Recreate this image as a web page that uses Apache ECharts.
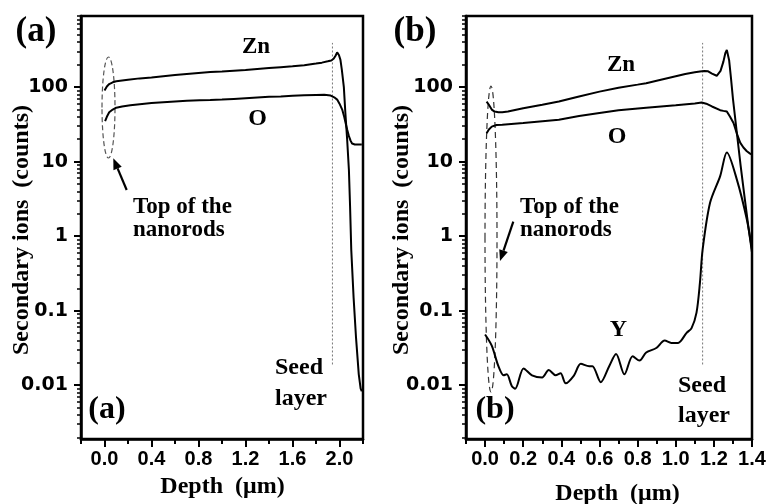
<!DOCTYPE html>
<html><head><meta charset="utf-8">
<script src="https://cdn.jsdelivr.net/npm/echarts@6/dist/echarts.min.js"></script>
<style>html,body{margin:0;padding:0;background:#fff}#c{width:769px;height:504px}</style>
</head><body><div id="c"></div>
<script>
// ---------- DATA ----------
// Panel (a)
const depthZnA = [0.0, 0.01, 0.02, 0.04, 0.07, 0.1, 0.15, 0.2, 0.3, 0.4, 0.5, 0.6, 0.7, 0.8, 0.9, 1.0, 1.1, 1.2, 1.3, 1.4, 1.5, 1.6, 1.7, 1.8, 1.85, 1.9, 1.93, 1.95, 1.965, 1.98, 1.995, 2.008, 2.02, 2.037, 2.05, 2.065, 2.08, 2.09, 2.10, 2.12, 2.14, 2.164, 2.18, 2.19];
const countsZnA = [90, 95, 102, 110, 116, 120, 123, 126, 131, 135, 140, 145, 150, 155, 159, 162, 166, 170, 175, 180, 185, 190, 197, 207, 213, 222, 228, 240, 262, 292, 270, 232, 170, 100, 45, 20, 7.8, 2.5, 0.66, 0.15, 0.045, 0.014, 0.009, 0.0083];
const depthOA = [0.005, 0.02, 0.04, 0.07, 0.1, 0.15, 0.22, 0.3, 0.4, 0.5, 0.6, 0.7, 0.81, 0.9, 1.0, 1.1, 1.2, 1.3, 1.4, 1.5, 1.6, 1.7, 1.8, 1.87, 1.925, 1.955, 1.98, 2.0, 2.023, 2.04, 2.052, 2.065, 2.08, 2.095, 2.107, 2.13, 2.16, 2.19];
const countsOA = [35, 40, 46, 50, 53, 55, 57, 59, 61, 62.5, 64, 65.5, 66.5, 67, 68, 69.5, 71, 72.5, 74, 75, 76.5, 77.5, 78.5, 79, 77, 73, 68, 60, 50, 40, 33, 27, 22, 19, 17.5, 17, 17, 17];
const seedDepthA = [1.94, 1.94];
// Panel (b)
const depthZnB = [0.008, 0.02, 0.035, 0.05, 0.07, 0.09, 0.12, 0.2, 0.3, 0.387, 0.493, 0.6, 0.7, 0.8, 0.845, 0.9, 1.0, 1.05, 1.1, 1.127, 1.15, 1.17, 1.19, 1.215, 1.235, 1.25, 1.26, 1.268, 1.28, 1.29, 1.30, 1.32, 1.34, 1.36, 1.38, 1.40];
const countsZnB = [64, 58, 50, 47, 46, 46, 47, 52, 58, 64, 75, 87, 98, 108, 113, 122, 140, 150, 158, 162, 165, 163, 152, 142, 165, 220, 285, 316, 230, 130, 70, 25, 9, 3.5, 1.4, 0.6];
const depthOB = [0.008, 0.02, 0.035, 0.06, 0.09, 0.2, 0.387, 0.493, 0.6, 0.7, 0.845, 1.0, 1.1, 1.136, 1.16, 1.19, 1.233, 1.25, 1.268, 1.285, 1.303, 1.32, 1.338, 1.355, 1.373, 1.39, 1.40];
const countsOB = [24, 27, 29.5, 31, 31.3, 33, 36.5, 41, 45, 49, 53, 57, 60.5, 62, 60, 55, 49, 48, 47, 40, 33, 24, 18, 15.5, 13.8, 12.8, 12.4];
const depthYB = [0.0, 0.035, 0.07, 0.097, 0.114, 0.14, 0.158, 0.202, 0.246, 0.299, 0.334, 0.37, 0.396, 0.423, 0.466, 0.502, 0.546, 0.563, 0.607, 0.651, 0.687, 0.731, 0.774, 0.81, 0.845, 0.898, 0.942, 0.977, 1.012, 1.057, 1.083, 1.109, 1.127, 1.141, 1.18, 1.233, 1.268, 1.321, 1.373, 1.40];
const countsYB = [0.048, 0.034, 0.018, 0.0136, 0.014, 0.0098, 0.009, 0.0168, 0.0136, 0.0127, 0.016, 0.0136, 0.0145, 0.0106, 0.0135, 0.0194, 0.018, 0.018, 0.011, 0.018, 0.0263, 0.014, 0.0245, 0.0214, 0.0275, 0.0316, 0.0398, 0.037, 0.037, 0.0505, 0.0585, 0.0944, 0.238, 0.66, 2.8, 6.4, 13.3, 5.7, 1.67, 0.66];
const seedDepthB = [1.141, 1.141];
const seedCounts = [0.019, 392];
// Axes / ticks
const yMin = 0.0019, yMax = 900;
const yMajorTicks = [0.01, 0.1, 1, 10, 100];
const yTickLabels = ['0.01', '0.1', '1', '10', '100'];
const yMinorTicks = [0.002,0.003,0.004,0.005,0.006,0.007,0.008,0.009,0.02,0.03,0.04,0.05,0.06,0.07,0.08,0.09,0.2,0.3,0.4,0.5,0.6,0.7,0.8,0.9,2,3,4,5,6,7,8,9,20,30,40,50,60,70,80,90,200,300,400,500,600,700,800,900];
const xRangeA = [-0.2, 2.2];
const xMajorA = [0, 0.4, 0.8, 1.2, 1.6, 2.0];
const xMinorA = [-0.2, 0.2, 0.6, 1.0, 1.4, 1.8, 2.2];
const xRangeB = [-0.1, 1.4];
const xMajorB = [0, 0.2, 0.4, 0.6, 0.8, 1.0, 1.2, 1.4];
const xMinorB = [-0.1, 0.1, 0.3, 0.5, 0.7, 0.9, 1.1, 1.3];

// ---------- CHART ----------
const zip = (a, b) => a.map((v, i) => [v, b[i]]);
const SERIF = '"Liberation Serif","Times New Roman",serif';
const chart = echarts.init(document.getElementById('c'), null, {renderer: 'canvas'});

function yAxesFor(g) {
  return [{
    type: 'log', gridIndex: g, min: yMin, max: yMax, position: 'left',
    axisLine: {show: true, onZero: false, lineStyle: {color: '#000', width: 2.5}},
    axisTick: {show: true, customValues: yMajorTicks, length: 7, inside: false, lineStyle: {color: '#000', width: 2}},
    axisLabel: {show: true, customValues: yMajorTicks, margin: 13, color: '#000', fontSize: 19, fontWeight: 'bold', fontFamily: '"DejaVu Sans",sans-serif',
      formatter: v => { const i = yMajorTicks.findIndex(t => Math.abs(Math.log10(t) - Math.log10(v)) < 1e-6); return i >= 0 ? yTickLabels[i] : ''; }},
    splitLine: {show: false}, minorTick: {show: false}
  }, {
    type: 'log', gridIndex: g, min: yMin, max: yMax, position: 'left',
    axisLine: {show: false, onZero: false},
    axisTick: {show: true, customValues: yMinorTicks, length: 4, inside: false, lineStyle: {color: '#000', width: 1.5}},
    axisLabel: {show: false}, splitLine: {show: false}
  }];
}
function xAxesFor(g, range, major, minor) {
  return [{
    type: 'value', gridIndex: g, min: range[0], max: range[1], position: 'bottom',
    axisLine: {show: true, onZero: false, lineStyle: {color: '#000', width: 2.5}},
    axisTick: {show: true, customValues: major, length: 8, inside: false, lineStyle: {color: '#000', width: 2}},
    axisLabel: {show: true, customValues: major, margin: 10, color: '#000', fontSize: 20, fontWeight: 'bold', fontFamily: '"Liberation Sans",Arial,sans-serif',
      formatter: v => v.toFixed(1)},
    splitLine: {show: false}
  }, {
    type: 'value', gridIndex: g, min: range[0], max: range[1], position: 'bottom',
    axisLine: {show: false, onZero: false},
    axisTick: {show: true, customValues: minor, length: 5, inside: false, lineStyle: {color: '#000', width: 2}},
    axisLabel: {show: false}, splitLine: {show: false}
  }];
}
const lineS = (xi, yi, data, extra) => Object.assign({
  type: 'line', xAxisIndex: xi, yAxisIndex: yi, data: data, symbol: 'none', showSymbol: false,
  lineStyle: {color: '#000', width: 2}, silent: true, z: 3
}, extra || {});

function arrow(x0, y0, x1, y1) {
  const dx = x1 - x0, dy = y1 - y0, L = Math.hypot(dx, dy), ux = dx / L, uy = dy / L;
  const hl = 11, hw = 4.5, bx = x1 - ux * hl, by = y1 - uy * hl, nx = -uy, ny = ux;
  return [
    {type: 'line', shape: {x1: x0, y1: y0, x2: bx, y2: by}, style: {stroke: '#000', lineWidth: 2.2}},
    {type: 'polygon', shape: {points: [[x1, y1], [bx + nx * hw, by + ny * hw], [bx - nx * hw, by - ny * hw]]}, style: {fill: '#000'}}
  ];
}
const txt = (x, y, text, size, align, extra) => Object.assign({
  type: 'text', x: x, y: y, style: {text: text, fill: '#000', font: 'bold ' + size + 'px ' + SERIF, textAlign: align || 'center', textVerticalAlign: 'middle'}
}, extra || {});

const option = {
  animation: false,
  backgroundColor: '#fff',
  grid: [
    {left: 81, top: 16, width: 282, height: 423, show: true, borderColor: '#000', borderWidth: 2.5, backgroundColor: 'transparent'},
    {left: 466, top: 16, width: 286, height: 423, show: true, borderColor: '#000', borderWidth: 2.5, backgroundColor: 'transparent'}
  ],
  xAxis: [].concat(xAxesFor(0, xRangeA, xMajorA, xMinorA), xAxesFor(1, xRangeB, xMajorB, xMinorB)),
  yAxis: [].concat(yAxesFor(0), yAxesFor(1)),
  series: [
    lineS(0, 0, zip(depthZnA, countsZnA)),
    lineS(0, 0, zip(depthOA, countsOA)),
    lineS(0, 0, zip(seedDepthA, seedCounts), {lineStyle: {color: '#777', width: 1, type: [2, 2]}, z: 2}),
    lineS(2, 2, zip(depthZnB, countsZnB)),
    lineS(2, 2, zip(depthOB, countsOB)),
    lineS(2, 2, zip(depthYB, countsYB), {smooth: 0.3}),
    lineS(2, 2, zip(seedDepthB, seedCounts), {lineStyle: {color: '#777', width: 1, type: [2, 2]}, z: 2})
  ],
  graphic: {elements: [
    txt(36, 32, '(a)', 35), txt(415, 32, '(b)', 35),
    txt(107, 410, '(a)', 32), txt(495, 410, '(b)', 32),
    txt(256, 47, 'Zn', 23), txt(257.5, 118.5, 'O', 24),
    txt(621, 65, 'Zn', 23), txt(617, 137, 'O', 24), txt(618.5, 330, 'Y', 24),
    txt(133, 207, 'Top of the', 23, 'left'), txt(133, 230, 'nanorods', 23, 'left'),
    txt(520, 207, 'Top of the', 23, 'left'), txt(520, 230, 'nanorods', 23, 'left'),
    txt(275, 368, 'Seed', 24, 'left'), txt(275, 399, 'layer', 24, 'left'),
    txt(678, 386, 'Seed', 24, 'left'), txt(678, 416, 'layer', 24, 'left'),
    txt(222.5, 487, 'Depth  (\u03bcm)', 24), txt(617.5, 494, 'Depth  (\u03bcm)', 24),
    txt(22, 230, 'Secondary ions  (counts)', 24, 'center', {rotation: Math.PI / 2}),
    txt(402, 230, 'Secondary ions  (counts)', 24, 'center', {rotation: Math.PI / 2}),
    {type: 'ellipse', shape: {cx: 108.5, cy: 107.5, rx: 6.5, ry: 50.5}, style: {fill: 'none', stroke: '#555', lineWidth: 1.2, lineDash: [5, 3]}},
    {type: 'ellipse', shape: {cx: 491, cy: 239, rx: 6, ry: 153}, style: {fill: 'none', stroke: '#333', lineWidth: 1.2, lineDash: [6, 4]}}
  ].concat(arrow(126.7, 190, 113.3, 158.3), arrow(513.3, 221.7, 500, 261))}
};
chart.setOption(option);
</script>
</body></html>
